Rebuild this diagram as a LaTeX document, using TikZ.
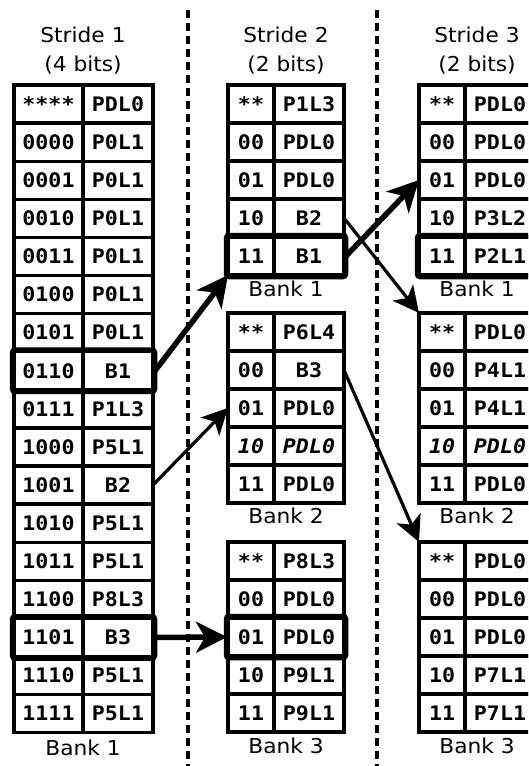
\documentclass[tikz,border=0pt]{standalone}
\usepackage{fontspec}
\setmainfont{DejaVu Sans}[FakeStretch=1.06]
\newfontfamily\tabfont{DejaVu Sans Mono}[FakeStretch=1.08]
\usetikzlibrary{arrows.meta}
\newcommand\mktable[7]{%
  \foreach \k/\v [count=\i from 0] in {#7} {%
    \node[cell, minimum width={#3-#2}, minimum height=#6] (#1-k-\i) at (#2, {#5+\i*#6}) {\k};
    \node[cell, minimum width={#4-#3}, minimum height=#6] (#1-v-\i) at (#3, {#5+\i*#6}) {\v};
  }%
}
\begin{document}
\begin{tikzpicture}[x=1pt,y=-1pt,
  cell/.style={draw, line width=3.4pt, anchor=north west, inner sep=0pt, outer sep=0pt,
    font=\tabfont\bfseries\fontsize{20}{22}\selectfont},
  hdr/.style={font=\fontsize{20.5}{22}\selectfont, inner sep=0pt},
  hl/.style={draw, line width=5.5pt, rounded corners=2.5pt},
  thickarr/.style={line width=5.5pt, -{Stealth[length=31pt,width=31pt,inset=9pt]}},
  thinarr/.style={line width=3.2pt, -{Stealth[length=26pt,width=26pt,inset=7pt]}},
  sep/.style={line width=3.8pt, dash pattern=on 8pt off 5pt}]
\clip (0,0) rectangle (528,766);
\fill[white] (0,0) rectangle (528,766);
% separators
\coordinate (d1t) at (188,10); \coordinate (d1b) at (188,766);
\coordinate (d2t) at (377,10); \coordinate (d2b) at (377,766);
\draw[sep] (d1t) -- (d1b);
\draw[sep] (d2t) -- (d2b);
% headers
\node[hdr] (h1a) at (83,35) {Stride 1};
\node[hdr] (h1b) at (83,65) {(4 bits)};
\node[hdr] (h2a) at (286,35) {Stride 2};
\node[hdr] (h2b) at (286,65) {(2 bits)};
\node[hdr] (h3a) at (477,35) {Stride 3};
\node[hdr] (h3b) at (477,65) {(2 bits)};
% left table
\mktable{L}{14}{83}{153}{85}{38.1}{****/PDL0,0000/P0L1,0001/P0L1,0010/P0L1,0011/P0L1,0100/P0L1,0101/P0L1,0110/B1,0111/P1L3,1000/P5L1,1001/B2,1010/P5L1,1011/P5L1,1100/P8L3,1101/B3,1110/P5L1,1111/P5L1}
\node[hdr] (lb1) at (83,748) {Bank 1};
% middle tables
\mktable{MA}{228}{274}{344}{85}{38}{**/P1L3,00/PDL0,01/PDL0,10/B2,11/B1}
\node[hdr] (mb1) at (286,289) {Bank 1};
\mktable{MB}{228}{274}{344}{313}{38}{**/P6L4,00/B3,01/PDL0,{\textit{10}}/{\textit{PDL0}},11/PDL0}
\node[hdr] (mb2) at (286,516) {Bank 2};
\mktable{MC}{228}{274}{344}{542}{38}{**/P8L3,00/PDL0,01/PDL0,10/P9L1,11/P9L1}
\node[hdr] (mb3) at (286,746) {Bank 3};
% right tables
\mktable{RA}{419}{465}{535}{85}{38}{**/PDL0,00/PDL0,01/PDL0,10/P3L2,11/P2L1}
\node[hdr] (rb1) at (477,289) {Bank 1};
\mktable{RB}{419}{465}{535}{313}{38}{**/PDL0,00/P4L1,01/P4L1,{\textit{10}}/{\textit{PDL0}},11/PDL0}
\node[hdr] (rb2) at (477,516) {Bank 2};
\mktable{RC}{419}{465}{535}{542}{38}{**/PDL0,00/PDL0,01/PDL0,10/P7L1,11/P7L1}
\node[hdr] (rb3) at (477,746) {Bank 3};
% highlights
\draw[hl] ([shift={(-1.5,-1.5)}]L-k-7.north west) rectangle ([shift={(1.5,1.5)}]L-v-7.south east);
\draw[hl] ([shift={(-1.5,-1.5)}]L-k-14.north west) rectangle ([shift={(1.5,1.5)}]L-v-14.south east);
\draw[hl] ([shift={(-1.5,-1.5)}]MA-k-4.north west) rectangle ([shift={(1.5,1.5)}]MA-v-4.south east);
\draw[hl] ([shift={(-1.5,-1.5)}]MC-k-2.north west) rectangle ([shift={(1.5,1.5)}]MC-v-2.south east);
\draw[hl] ([shift={(-1.5,-1.5)}]RA-k-4.north west) rectangle ([shift={(1.5,1.5)}]RA-v-4.south east);
\draw[line width=4.5pt] (L-k-7.north east) -- (L-k-7.south east);
\draw[line width=4.5pt] (L-k-14.north east) -- (L-k-14.south east);
\draw[line width=4.5pt] (MA-k-4.north east) -- (MA-k-4.south east);
\draw[line width=4.5pt] (MC-k-2.north east) -- (MC-k-2.south east);
\draw[line width=4.5pt] (RA-k-4.north east) -- (RA-k-4.south east);
% arrows
\draw[thickarr] ([xshift=2pt]L-v-7.east) -- (MA-k-4.south west);
\draw[thinarr] (L-v-10.east) -- (MB-k-2.west);
\draw[thickarr] ([xshift=2pt]L-v-14.east) -- ([xshift=-1pt]MC-k-2.west);
\draw[thickarr] ([xshift=2pt]MA-v-4.east) -- (RA-k-2.west);
\draw[thinarr] (MA-v-3.east) -- (RB-k-0.north west);
\draw[thinarr] (MB-v-1.east) -- (RC-k-0.north west);
\end{tikzpicture}
\end{document}
